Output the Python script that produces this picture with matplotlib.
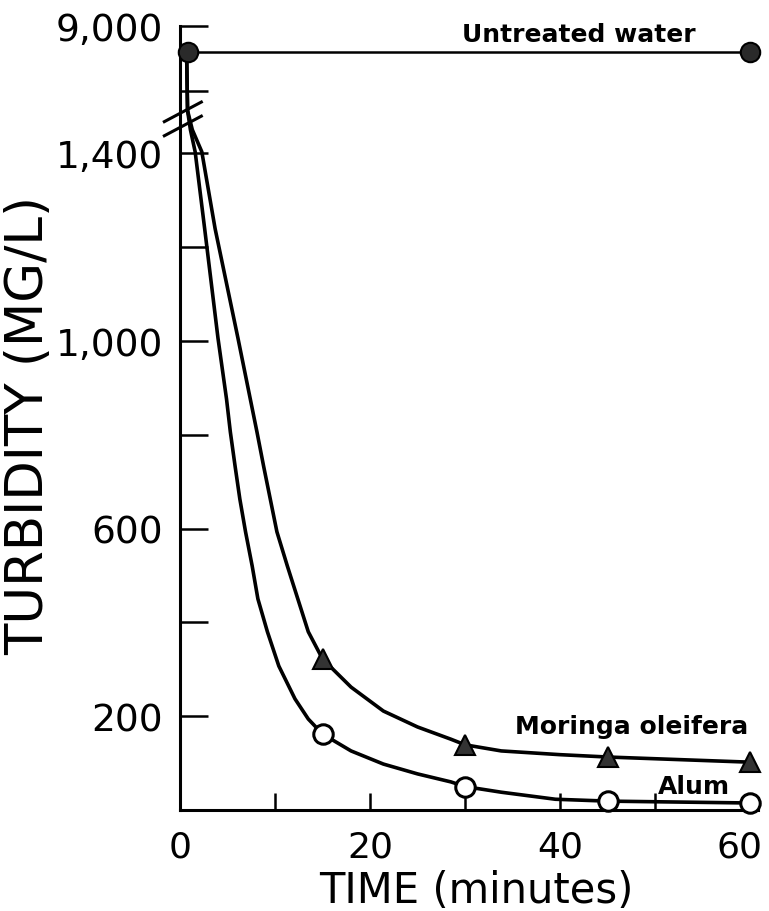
import numpy as np
import matplotlib
matplotlib.use("Agg")
import matplotlib.pyplot as plt
import matplotlib.transforms as mtransforms

# marker data
untreated_t = [0.8, 60]
untreated_v = [8600, 8600]
time_pts = [15, 30, 45, 60]
alum_pts = [162, 50, 19, 15]
moringa_pts = [322, 139, 113, 102]

# hand drawn curves, traced
alum_curve_t = [0.7, 0.8, 1.1, 1.6, 2.6, 4.0, 4.9, 5.3, 5.8, 6.3, 6.9, 7.6, 8.2, 9.2,
                10.4, 12.1, 13.5, 15.0, 18.0, 21.4, 25.0, 28.5, 30.0, 33.8, 39.5,
                45.0, 60.0]
alum_curve_v = [8600, 7700, 1465, 1403, 1239, 1006, 876, 806, 733, 663, 593, 520, 450,
                380, 307, 237, 194, 162, 126, 98, 77, 60, 50, 38, 23, 19, 15]
moringa_curve_t = [0.7, 0.8, 1.3, 2.3, 3.7, 6.1, 7.4, 8.1, 8.8, 9.5, 10.2, 11.3, 12.4,
                   13.5, 15.0, 18.0, 21.4, 25.0, 28.5, 30.0, 33.8, 40.0, 45.0, 60.0]
moringa_curve_v = [8600, 7700, 1465, 1403, 1239, 1006, 876, 806, 733, 663, 593, 520,
                   450, 380, 322, 262, 211, 177, 151, 139, 126, 118, 113, 102]

ytick_major = [200, 600, 1000, 1400, 9000]
ytick_labels = ["200", "600", "1,000", "1,400", "9,000"]
ytick_minor = [400, 800, 1200, 8000]
xtick_major = [0, 20, 40, 60]
xtick_minor = [10, 30, 50]

# broken y scale: 0-1450 linear, gap squeezed, 7650+ compressed
LO, HI = 1450.0, 7650.0
GAP = 34.0
S = 0.1386

def fwd(v):
    v = np.asarray(v, dtype=float)
    return np.where(v <= LO, v,
                    np.where(v <= HI, LO + (v - LO) * GAP / (HI - LO),
                             LO + GAP + (v - HI) * S))

def inv(u):
    u = np.asarray(u, dtype=float)
    return np.where(u <= LO, u,
                    np.where(u <= LO + GAP, LO + (u - LO) * (HI - LO) / GAP,
                             HI + (u - LO - GAP) / S))

fig = plt.figure(figsize=(7.69, 9.12), dpi=100)
ax = fig.add_axes([0.234, 0.1107, 0.7516, 0.8597])
ax.set_yscale("function", functions=(fwd, inv))
ax.set_ylim(0, 9000)
ax.set_xlim(0, 60.8)

ax.plot(untreated_t, untreated_v, color="k", lw=1.8, zorder=3)
ax.plot(alum_curve_t, alum_curve_v, color="k", lw=2.6, zorder=3)
ax.plot(moringa_curve_t, moringa_curve_v, color="k", lw=2.6, zorder=3)

ax.plot(untreated_t, untreated_v, "o", ms=14, mfc="#2a2a2a", mec="k", mew=1.5,
        zorder=4, clip_on=False)
ax.plot(time_pts, moringa_pts, "^", ms=14, mfc="#333333", mec="k", mew=1.5,
        zorder=4, clip_on=False)
ax.plot(time_pts, alum_pts, "o", ms=14, mfc="white", mec="k", mew=2.2,
        zorder=4, clip_on=False)

for s in ["top", "right"]:
    ax.spines[s].set_visible(False)
for s in ["left", "bottom"]:
    ax.spines[s].set_linewidth(2.2)

ax.set_yticks(ytick_major)
ax.set_yticklabels(ytick_labels)
ax.set_yticks(ytick_minor, minor=True)
ax.set_xticks(xtick_major)
ax.set_xticks(xtick_minor, minor=True)
ax.tick_params(axis="y", which="both", direction="in", length=20, width=1.8,
               labelsize=27, pad=12)
ax.tick_params(axis="x", which="both", direction="in", length=12, width=1.8,
               labelsize=26, pad=14)

# the "60" sits a little left of its tick in the original
lbl = ax.get_xticklabels()[-1]
lbl.set_transform(lbl.get_transform() +
                  mtransforms.ScaledTranslation(-0.11, 0, fig.dpi_scale_trans))

ax.set_xlabel("TIME (minutes)", fontsize=30)
ax.xaxis.set_label_coords(0.512, -0.075)
ax.set_ylabel("TURBIDITY (MG/L)", fontsize=37)
ax.yaxis.set_label_coords(-0.218, 0.492)

# break marks on the y axis
for dy in (0.0, -0.018):
    ax.plot([-0.027, 0.037], [0.878 + dy, 0.903 + dy], color="k", lw=2.2,
            transform=ax.transAxes, clip_on=False, zorder=5)

ax.text(42, 8880, "Untreated water", fontsize=18, fontweight="bold",
        ha="center", va="center")
ax.text(47.5, 179, "Moringa oleifera", fontsize=18, fontweight="bold",
        ha="center", va="center")
ax.text(54.1, 51, "Alum", fontsize=18, fontweight="bold", ha="center", va="center")

fig.savefig("out.png", dpi=100)
